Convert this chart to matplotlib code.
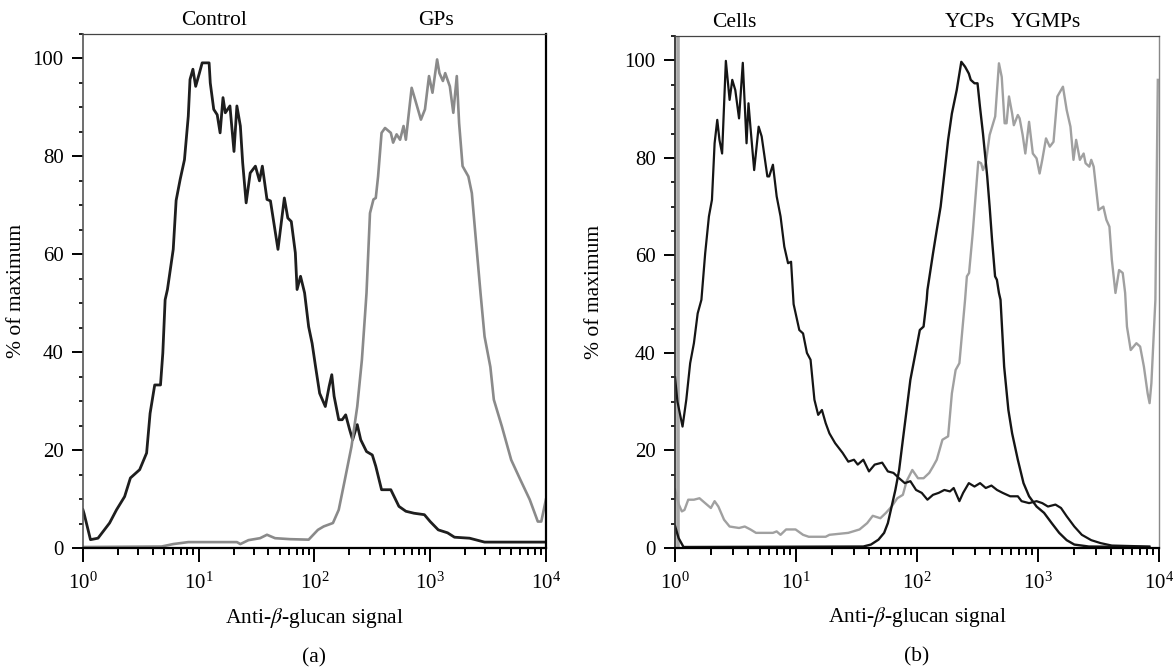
import numpy as np
import matplotlib
matplotlib.use("Agg")
import matplotlib.pyplot as plt
from matplotlib.lines import Line2D
from matplotlib import transforms
from matplotlib.ticker import LogLocator, MultipleLocator, LogFormatterSciNotation, NullFormatter

plt.rcParams['font.family'] = ['Liberation Serif', 'DejaVu Serif']
plt.rcParams['mathtext.fontset'] = 'stix'

# ---------------- data (log10 of signal, % of maximum) ----------------
ctrl_log = [0.0, 0.01, 0.065, 0.13, 0.23, 0.29, 0.36, 0.41, 0.49, 0.55, 0.58, 0.62, 0.67, 0.69, 0.71, 0.73,
            0.78, 0.805, 0.84, 0.877, 0.91, 0.925, 0.95, 0.974, 1.006, 1.03, 1.09, 1.10, 1.13, 1.16,
            1.185, 1.21, 1.23, 1.27, 1.305, 1.33, 1.36, 1.38, 1.41, 1.445, 1.49, 1.525, 1.55, 1.59,
            1.62, 1.685, 1.74, 1.77, 1.80, 1.835, 1.85, 1.88, 1.915, 1.95, 1.98, 2.01, 2.045, 2.094,
            2.127, 2.15, 2.17, 2.21, 2.24, 2.27, 2.305, 2.33, 2.37, 2.40, 2.45, 2.5, 2.53, 2.58, 2.66,
            2.73, 2.79, 2.86, 2.95, 3.0, 3.07, 3.15, 3.21, 3.34, 3.47, 4.0]
ctrl_pct = [7.8, 7.0, 1.7, 2.0, 5.1, 7.8, 10.5, 14.3, 16.0, 19.4, 27.5, 33.3, 33.3, 39.8, 50.7, 52.8,
            61.0, 71.0, 75.3, 79.3, 88.2, 95.7, 97.8, 94.3, 97.0, 99.1, 99.1, 95.0, 89.6, 88.5,
            84.8, 92.0, 88.9, 90.3, 81.0, 90.3, 86.2, 78.7, 70.5, 76.6, 78.0, 75.0, 78.0, 71.2,
            70.9, 61.0, 71.5, 67.4, 66.7, 60.3, 52.8, 55.5, 52.1, 45.2, 41.8, 37.0, 31.6, 28.9,
            33.0, 35.4, 31.0, 26.2, 26.2, 27.2, 24.1, 22.1, 25.2, 22.1, 19.7, 19.0, 16.7, 11.9, 11.9,
            8.5, 7.5, 7.1, 6.8, 5.4, 3.7, 3.1, 2.2, 2.0, 1.2, 1.2]

gps_log = [0.0, 0.68, 0.78, 0.91, 1.33, 1.36, 1.43, 1.53, 1.59, 1.66, 1.79, 1.95, 2.03, 2.08, 2.16,
           2.21, 2.26, 2.32, 2.37, 2.41, 2.44, 2.45, 2.48, 2.51, 2.53, 2.55, 2.58, 2.61, 2.66, 2.68,
           2.71, 2.74, 2.77, 2.79, 2.84, 2.87, 2.92, 2.955, 2.99, 3.02, 3.06, 3.08, 3.11, 3.13, 3.17,
           3.2, 3.23, 3.25, 3.28, 3.33, 3.36, 3.39, 3.435, 3.47, 3.52, 3.55, 3.62, 3.7, 3.78, 3.86,
           3.93, 3.96, 4.0]
gps_pct = [0.2, 0.3, 0.8, 1.2, 1.2, 0.8, 1.6, 2.0, 2.7, 2.0, 1.8, 1.7, 3.7, 4.4, 5.1,
           7.8, 13.6, 20.7, 28.9, 38.4, 48.6, 52.1, 68.4, 71.2, 71.5, 75.9, 84.8, 85.8, 84.8, 82.8,
           84.5, 83.4, 86.2, 83.4, 94.0, 91.6, 87.5, 89.6, 96.4, 93.0, 99.8, 97.0, 95.4, 97.0, 94.3,
           88.9, 96.4, 86.8, 78.0, 75.9, 72.5, 64.3, 52.1, 43.2, 37.0, 30.3, 24.8, 18.0, 13.9, 9.9,
           5.4, 5.4, 9.9]

cells_log = [0.0, 0.02, 0.062, 0.093, 0.125, 0.156, 0.187, 0.218, 0.249, 0.28, 0.305, 0.327, 0.349,
             0.367, 0.389, 0.42, 0.451, 0.473, 0.498, 0.529, 0.56, 0.591, 0.607, 0.623, 0.654, 0.691,
             0.716, 0.763, 0.778, 0.809, 0.84, 0.872, 0.903, 0.934, 0.959, 0.98, 1.027, 1.058, 1.09,
             1.12, 1.152, 1.183, 1.214, 1.245, 1.276, 1.323, 1.385, 1.432, 1.479, 1.51, 1.556, 1.603,
             1.65, 1.712, 1.759, 1.805, 1.852, 1.899, 1.945, 1.992, 2.039, 2.086, 2.132, 2.179, 2.226,
             2.272, 2.303, 2.35, 2.381, 2.428, 2.475, 2.521, 2.568, 2.615, 2.661, 2.708, 2.77, 2.833,
             2.864, 2.926, 2.988, 3.035, 3.082, 3.144, 3.19, 3.237, 3.3, 3.362, 3.44, 3.517, 3.61, 3.92]
cells_pct = [35.0, 30.0, 24.9, 30.4, 37.9, 42.0, 48.1, 50.9, 60.4, 68.0, 71.4, 83.0, 87.8,
             83.7, 80.9, 99.9, 91.9, 96.0, 93.9, 88.1, 99.5, 83.0, 91.2, 86.4, 77.5, 86.4,
             84.4, 76.2, 76.2, 78.6, 72.1, 68.0, 61.8, 58.4, 58.7, 50.0, 44.7, 44.0, 40.0,
             38.6, 30.4, 27.3, 28.3, 25.6, 23.5, 21.5, 19.5, 17.7, 18.1, 17.1, 18.1, 15.7,
             17.1, 17.5, 15.7, 15.4, 14.3, 13.3, 13.7, 11.9, 11.3, 9.9, 10.9, 11.3, 11.9,
             11.6, 12.3, 9.6, 11.3, 13.3, 12.6, 13.3, 12.3, 12.8, 11.9, 11.3, 10.6, 10.6,
             9.6, 9.2, 9.6, 9.2, 8.5, 8.9, 8.2, 6.5, 4.4, 2.7, 1.6, 1.0, 0.5, 0.3]

ycps_log = [0.0, 0.03, 0.07, 1.556, 1.619, 1.681, 1.728, 1.759, 1.79, 1.821, 1.852, 1.883, 1.914, 1.945,
            1.992, 2.023, 2.054, 2.08, 2.086, 2.132, 2.163, 2.195, 2.226, 2.257, 2.288, 2.328, 2.366,
            2.397, 2.428, 2.444, 2.475, 2.5, 2.52, 2.545, 2.58, 2.6, 2.62, 2.645, 2.66, 2.677, 2.69,
            2.72, 2.755, 2.786, 2.833, 2.88, 2.926, 2.988, 3.05, 3.113, 3.175, 3.237, 3.3, 3.42, 3.92]
ycps_pct = [4.5, 2.0, 0.2, 0.3, 0.7, 1.7, 3.1, 5.1, 8.5, 11.9, 16.0, 22.2, 28.3, 34.5,
            40.6, 44.7, 45.4, 50.9, 52.9, 60.4, 65.2, 70.0, 76.8, 83.7, 89.1, 93.9, 99.7,
            98.7, 97.3, 96.0, 95.3, 95.3, 90.5, 85.0, 76.2, 70.0, 63.2, 55.7, 55.0, 52.3, 50.9,
            37.2, 28.3, 23.5, 18.1, 13.3, 10.6, 8.5, 7.2, 5.1, 3.1, 1.6, 0.7, 0.3, 0.2]

ygmps_log = [0.0, 0.03, 0.056, 0.078, 0.109, 0.156, 0.202, 0.249, 0.296, 0.327, 0.358, 0.405, 0.451,
             0.529, 0.576, 0.623, 0.669, 0.809, 0.84, 0.872, 0.918, 0.996, 1.058, 1.105, 1.245, 1.276,
             1.432, 1.525, 1.588, 1.634, 1.697, 1.743, 1.79, 1.837, 1.883, 1.914, 1.961, 2.008, 2.054,
             2.101, 2.132, 2.163, 2.21, 2.257, 2.288, 2.319, 2.35, 2.372, 2.397, 2.412, 2.43, 2.46,
             2.49, 2.506, 2.53, 2.545, 2.568, 2.6, 2.646, 2.677, 2.7, 2.724, 2.74, 2.76, 2.786, 2.8,
             2.833, 2.848, 2.873, 2.895, 2.926, 2.957, 2.988, 3.013, 3.035, 3.066, 3.097, 3.128, 3.16,
             3.206, 3.237, 3.268, 3.293, 3.315, 3.346, 3.377, 3.393, 3.424, 3.44, 3.46, 3.5, 3.54,
             3.565, 3.59, 3.61, 3.64, 3.67, 3.7, 3.72, 3.735, 3.766, 3.813, 3.844, 3.875, 3.906, 3.922,
             3.937, 3.97, 3.99]
ygmps_pct = [12.0, 9.0, 7.5, 7.8, 9.9, 9.9, 10.2, 9.2, 8.2, 9.6, 8.5, 5.8, 4.4,
             4.1, 4.4, 3.8, 3.1, 3.1, 3.4, 2.7, 3.8, 3.8, 2.7, 2.3, 2.3, 2.7,
             3.1, 3.8, 5.1, 6.6, 6.1, 7.2, 8.5, 10.2, 10.9, 13.7, 16.0, 14.3, 14.3,
             15.4, 16.7, 18.1, 22.2, 22.9, 31.7, 36.5, 37.9, 44.0, 50.9, 55.7, 56.4, 64.5,
             74.1, 79.2, 78.9, 77.5, 78.9, 84.7, 88.5, 99.4, 96.6, 87.1, 87.1, 92.6, 89.1, 86.7,
             88.8, 88.1, 84.7, 80.9, 87.4, 80.9, 79.9, 76.8, 79.6, 84.0, 82.3, 83.3, 92.6,
             94.6, 89.8, 86.4, 79.6, 83.7, 79.6, 80.9, 78.9, 78.2, 79.6, 78.2, 69.3, 70.0,
             67.3, 65.9, 59.1, 52.3, 57.0, 56.4, 52.3, 45.4, 40.6, 42.0, 41.3, 37.2, 31.7, 29.7,
             33.8, 50.9, 96.0]

x_label = r'Anti-$\beta$-glucan signal'
y_label = '% of maximum'
panel_labels = ['(a)', '(b)']
top_labels_a = [('Control', 13.5), ('GPs', 1120)]
top_labels_b = [('Cells', 3.1), ('YCPs', 275), ('YGMPs', 1170)]

# ---------------- figure ----------------
fig = plt.figure(figsize=(11.75, 6.69), dpi=100)
ax_a = fig.add_axes([0.0706, 0.1809, 0.394, 0.7683])
ax_b = fig.add_axes([0.5745, 0.1809, 0.4119, 0.7653])

def style(ax, ylab_x):
    ax.set_xscale('log')
    ax.set_xlim(1, 1e4)
    ax.set_ylim(0, 105)
    ax.xaxis.set_major_locator(LogLocator(base=10, numticks=10))
    ax.xaxis.set_major_formatter(LogFormatterSciNotation())
    ax.xaxis.set_minor_locator(LogLocator(base=10, subs=np.arange(2, 10), numticks=20))
    ax.xaxis.set_minor_formatter(NullFormatter())
    ax.yaxis.set_major_locator(MultipleLocator(20))
    ax.yaxis.set_minor_locator(MultipleLocator(5))
    ax.tick_params(axis='x', which='major', direction='out', length=10.0, width=1.4,
                   labelsize=15, pad=8, colors='black')
    ax.tick_params(axis='x', which='minor', direction='out', length=5.2, width=1.4)
    ax.tick_params(axis='y', which='major', direction='out', length=8.0, width=1.4,
                   labelsize=15, pad=6)
    ax.tick_params(axis='y', which='minor', direction='out', length=3.0, width=1.2)
    ax.set_xlabel(x_label, fontsize=15.5)
    ax.set_ylabel(y_label, fontsize=15.5)
    ax.xaxis.set_label_coords(0.5, -0.112)
    ax.yaxis.set_label_coords(ylab_x, 0.5)
    ax.spines['bottom'].set_linewidth(1.6)
    ax.spines['top'].set_linewidth(0.9)
    ax.spines['top'].set_color('#444444')

style(ax_a, -0.123)
style(ax_b, -0.146)

# panel a
ax_a.plot(10 ** np.array(ctrl_log), ctrl_pct, color='#1e1e1e', lw=2.0, solid_joinstyle='round')
ax_a.plot(10 ** np.array(gps_log), gps_pct, color='#8a8a8a', lw=1.9, solid_joinstyle='round')
ax_a.spines['left'].set_linewidth(1.2)
ax_a.spines['left'].set_color('#555555')
ax_a.spines['right'].set_linewidth(1.6)

# panel b
ax_b.plot(10 ** np.array(ygmps_log), ygmps_pct, color='#a0a0a0', lw=1.7, solid_joinstyle='round')
ax_b.plot(10 ** np.array(cells_log), cells_pct, color='#151515', lw=1.6, solid_joinstyle='round')
ax_b.plot(10 ** np.array(ycps_log), ycps_pct, color='#151515', lw=1.7, solid_joinstyle='round')
ax_b.spines['left'].set_linewidth(1.3)
ax_b.spines['left'].set_color('#303030')
ax_b.spines['right'].set_linewidth(1.0)
ax_b.spines['right'].set_color('#888888')
# grey band just inside the left frame of panel b (double frame look)
band_tr = transforms.offset_copy(ax_b.transAxes, fig=fig, x=2.6, y=0, units='dots')
ax_b.add_line(Line2D([0, 0], [0, 1], transform=band_tr, color='#a8a8a8', lw=2.6,
                     solid_capstyle='butt', clip_on=False, zorder=1))

for text, xv in top_labels_a:
    ax_a.text(xv, 1.027, text, transform=ax_a.get_xaxis_transform(), ha='center', va='center',
              fontsize=15.5)
for text, xv in top_labels_b:
    ax_b.text(xv, 1.027, text, transform=ax_b.get_xaxis_transform(), ha='center', va='center',
              fontsize=15.5)

for ax, lab in zip([ax_a, ax_b], panel_labels):
    ax.text(0.5, -0.213, lab, transform=ax.transAxes, ha='center', va='center', fontsize=15.5)

fig.savefig('out.png', dpi=100)
